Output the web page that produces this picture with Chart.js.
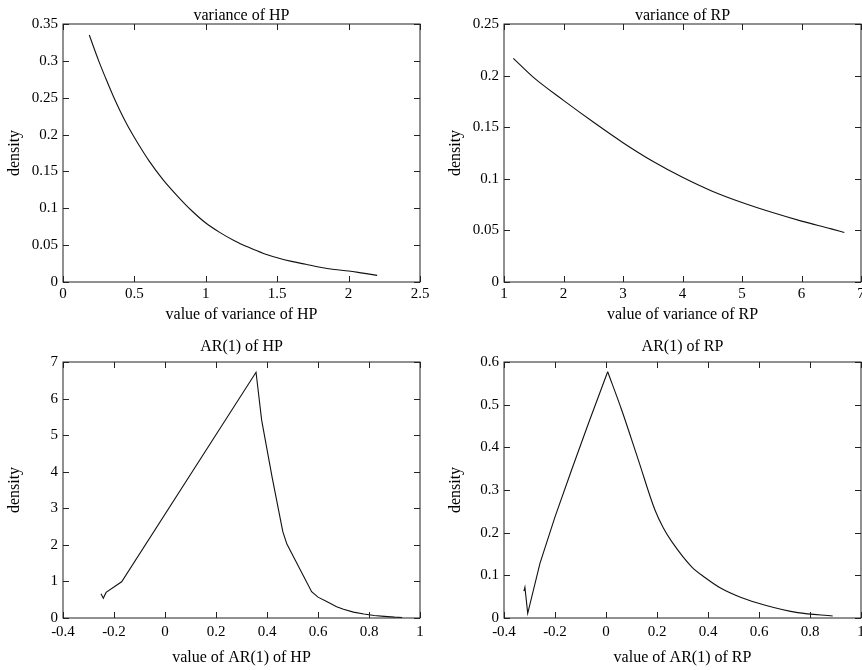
<!DOCTYPE html>
<html>
<head>
<meta charset="utf-8">
<script src="https://cdn.jsdelivr.net/npm/chart.js@4.4.1/dist/chart.umd.min.js"></script>
<style>
  html, body { margin: 0; padding: 0; background: #fff; overflow: hidden; }
  .panel { position: absolute; width: 431px; height: 335px; }
</style>
</head>
<body>
<div class="panel" style="left:0;top:0"><canvas id="chartVarHP"></canvas></div>
<div class="panel" style="left:431px;top:0"><canvas id="chartVarRP"></canvas></div>
<div class="panel" style="left:0;top:335px"><canvas id="chartArHP"></canvas></div>
<div class="panel" style="left:431px;top:335px"><canvas id="chartArRP"></canvas></div>
<script>
// densidades (4 painéis)

const varHpX = [0.184, 0.25, 0.30, 0.35, 0.40, 0.45, 0.50, 0.55, 0.60, 0.70, 0.80, 0.90, 1.0, 1.1, 1.2, 1.3, 1.4, 1.5, 1.6, 1.7, 1.8, 1.9, 2.0, 2.1, 2.2];
const varHpY = [0.335, 0.300, 0.276, 0.253, 0.232, 0.213, 0.196, 0.180, 0.165, 0.139, 0.117, 0.097, 0.080, 0.067, 0.056, 0.047, 0.039, 0.033, 0.028, 0.024, 0.020, 0.017, 0.015, 0.012, 0.009];

const varRpX = [1.157, 1.5, 2.0, 2.5, 3.0, 3.5, 4.0, 4.5, 5.0, 5.5, 6.0, 6.5, 6.72];
const varRpY = [0.2167, 0.198, 0.176, 0.155, 0.135, 0.117, 0.1015, 0.088, 0.077, 0.0675, 0.059, 0.0515, 0.048];

const arHpX = [-0.251, -0.242, -0.231, -0.170, 0.357, 0.379, 0.42, 0.462, 0.478, 0.575, 0.60, 0.634, 0.673, 0.70, 0.739, 0.78, 0.82, 0.86, 0.90, 0.93];
const arHpY = [0.66, 0.54, 0.70, 0.99, 6.72, 5.41, 3.85, 2.36, 2.02, 0.72, 0.57, 0.45, 0.31, 0.24, 0.16, 0.11, 0.07, 0.045, 0.025, 0.015];

const arRpX = [-0.322, -0.318, -0.307, -0.259, -0.200, -0.135, -0.069, 0.0066, 0.0615, 0.127, 0.192, 0.225, 0.258, 0.336, 0.388, 0.451, 0.53, 0.621, 0.752, 0.889];
const arRpY = [0.063, 0.072, 0.011, 0.128, 0.237, 0.347, 0.456, 0.577, 0.4875, 0.370, 0.253, 0.211, 0.179, 0.120, 0.095, 0.0696, 0.048, 0.0305, 0.0125, 0.0047];
const arRpPeak = 7; // índice do pico: à direita dele a curva é suave

const titles = ["variance of HP", "variance of RP", "AR(1) of HP", "AR(1) of RP"];
const xLabels = ["value of variance of HP", "value of variance of RP", "value of AR(1) of HP", "value of AR(1) of RP"];

Chart.defaults.color = "#000";
Chart.defaults.font.family = "'Liberation Serif', 'DejaVu Serif', serif";
Chart.defaults.font.size = 15;

const SERIF16 = { size: 16, lineHeight: 1, weight: "normal" };

// moldura fechada + marcas de escala para dentro, nos 4 lados
const frameTicks = {
  id: "frameTicks",
  afterDraw(chart) {
    const { ctx, chartArea: a, scales } = chart;
    const len = 6;
    ctx.save();
    ctx.strokeStyle = "#222";
    ctx.lineWidth = 1;
    ctx.strokeRect(a.left, a.top, a.right - a.left, a.bottom - a.top);
    ctx.beginPath();
    scales.x.ticks.forEach((t) => {
      const px = Math.round(scales.x.getPixelForValue(t.value)) + 0.5;
      ctx.moveTo(px, a.bottom); ctx.lineTo(px, a.bottom - len);
      ctx.moveTo(px, a.top); ctx.lineTo(px, a.top + len);
    });
    scales.y.ticks.forEach((t) => {
      const py = Math.round(scales.y.getPixelForValue(t.value)) + 0.5;
      ctx.moveTo(a.left, py); ctx.lineTo(a.left + len, py);
      ctx.moveTo(a.right, py); ctx.lineTo(a.right - len, py);
    });
    ctx.stroke();
    ctx.restore();
  },
};

const fmt = (v) => String(Math.round(v * 1000) / 1000);

function lineSet(xs, ys, smooth) {
  return {
    data: xs.map((x, i) => ({ x, y: ys[i] })),
    borderColor: "#111",
    borderWidth: 1.1,
    pointRadius: 0,
    fill: false,
    tension: smooth ? 0.4 : 0,
    cubicInterpolationMode: smooth ? "monotone" : "default",
  };
}

function renderPanel(id, datasets, cfg) {
  const ctx = document.getElementById(id);
  if (!ctx) return;
  new Chart(ctx, {
    type: "line",
    data: { datasets },
    options: {
      responsive: true,
      maintainAspectRatio: false,
      animation: false,
      layout: { padding: cfg.pad },
      plugins: {
        legend: { display: false },
        tooltip: { enabled: false },
        title: {
          display: true,
          text: cfg.title,
          fullSize: false,
          font: SERIF16,
          color: "#000",
          padding: cfg.titlePad,
        },
      },
      scales: {
        x: {
          type: "linear",
          min: cfg.xMin,
          max: cfg.xMax,
          ticks: { stepSize: cfg.xStep, padding: cfg.tickPad, callback: fmt, maxRotation: 0 },
          grid: { display: false, drawTicks: false },
          border: { display: false },
          title: { display: true, text: cfg.xLabel, font: SERIF16, padding: 0 },
          afterFit(s) {
            s.height = cfg.xAxisH;
            s.paddingLeft = 0;
            s.paddingRight = 0;
          },
        },
        y: {
          min: cfg.yMin,
          max: cfg.yMax,
          ticks: { stepSize: cfg.yStep, padding: 5, callback: fmt },
          grid: { display: false, drawTicks: false },
          border: { display: false },
          title: { display: true, text: "density", font: SERIF16, padding: 0 },
          afterFit(s) {
            s.width = 56;
            s.paddingTop = 0;
            s.paddingBottom = 0;
          },
        },
      },
    },
    plugins: [frameTicks],
  });
}

const TOP = { titlePad: { top: 8, bottom: 0 }, xAxisH: 41, tickPad: 3 };
const BOTTOM = { titlePad: { top: 4, bottom: 7 }, xAxisH: 48, tickPad: 5 };

renderPanel("chartVarHP", [lineSet(varHpX, varHpY, true)], {
  ...TOP, title: titles[0], xLabel: xLabels[0],
  pad: { left: 7, right: 11, top: 0, bottom: 12 },
  xMin: 0, xMax: 2.5, xStep: 0.5, yMin: 0, yMax: 0.35, yStep: 0.05,
});
renderPanel("chartVarRP", [lineSet(varRpX, varRpY, true)], {
  ...TOP, title: titles[1], xLabel: xLabels[1],
  pad: { left: 17, right: 1, top: 0, bottom: 12 },
  xMin: 1, xMax: 7, xStep: 1, yMin: 0, yMax: 0.25, yStep: 0.05,
});
renderPanel("chartArHP", [lineSet(arHpX, arHpY, false)], {
  ...BOTTOM, title: titles[2], xLabel: xLabels[2],
  pad: { left: 7, right: 11, top: 0, bottom: 4 },
  xMin: -0.4, xMax: 1, xStep: 0.2, yMin: 0, yMax: 7, yStep: 1,
});
renderPanel("chartArRP", [
  lineSet(arRpX.slice(0, arRpPeak + 1), arRpY.slice(0, arRpPeak + 1), false),
  lineSet(arRpX.slice(arRpPeak), arRpY.slice(arRpPeak), true),
], {
  ...BOTTOM, title: titles[3], xLabel: xLabels[3],
  pad: { left: 17, right: 1, top: 0, bottom: 4 },
  xMin: -0.4, xMax: 1, xStep: 0.2, yMin: 0, yMax: 0.6, yStep: 0.1,
});
</script>
</body>
</html>
